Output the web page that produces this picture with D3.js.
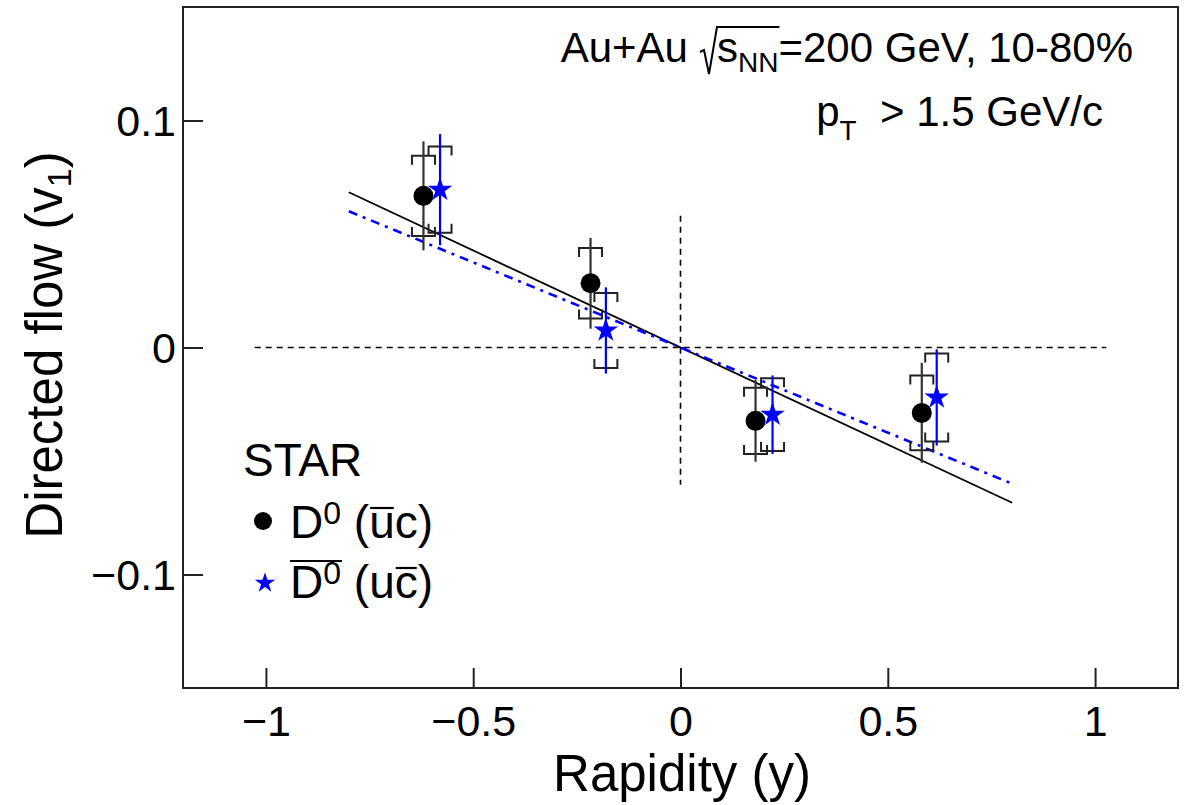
<!DOCTYPE html>
<html>
<head>
<meta charset="utf-8">
<script src="https://cdn.jsdelivr.net/npm/d3@7"></script>
<style>
  html, body { margin: 0; padding: 0; background: #fff; }
  svg { display: block; font-family: "Liberation Sans", Arial, Helvetica, sans-serif; }
  svg text { white-space: pre; }
</style>
</head>
<body>
<svg id="chart" width="1188" height="805"></svg>
<script>
// ---- data: D0 directed flow vs rapidity ----
const rapidityD0     = [-0.62, -0.217, 0.181, 0.582];
const v1D0           = [0.0668, 0.0283, -0.0323, -0.0288];
const statD0         = [0.024, 0.020, 0.018, 0.022];
const sysD0          = [0.0177, 0.0155, 0.0146, 0.0165];

const rapidityD0bar  = [-0.58, -0.18, 0.222, 0.618];
const v1D0bar        = [0.0695, 0.0075, -0.0296, -0.022];
const statD0bar      = [0.0245, 0.019, 0.0173, 0.0212];
const sysD0bar       = [0.019, 0.0165, 0.016, 0.0194];

// linear fits through the origin, drawn over this rapidity window
const fitRange       = [-0.8, 0.8];
const fitSlopeD0     = -0.0855;
const fitSlopeD0bar  = -0.075;

const xTicks      = [-1, -0.5, 0, 0.5, 1];
const xTickLabels = ["\u22121", "\u22120.5", "0", "0.5", "1"];
const yTicks      = [-0.1, 0, 0.1];
const yTickLabels = ["\u22120.1", "0", "0.1"];

// ---- layout ----
const frame = { left: 183, right: 1178, top: 7, bottom: 688 };
const svg = d3.select("#chart");

const x = d3.scaleLinear().domain([-1.2, 1.2]).range([frame.left, frame.right]);
const y = d3.scaleLinear().domain([-0.15, 0.15]).range([frame.bottom, frame.top]);

const BLUE = "#0000ff";

// reference lines at y = 0 and x = 0
svg.append("line")
  .attr("x1", x(-1.027)).attr("x2", x(1.027))
  .attr("y1", y(0)).attr("y2", y(0))
  .attr("stroke", "#000").attr("stroke-width", 1.6).attr("stroke-dasharray", "6 5");
svg.append("line")
  .attr("x1", x(0)).attr("x2", x(0))
  .attr("y1", y(0.058)).attr("y2", y(-0.0605))
  .attr("stroke", "#000").attr("stroke-width", 1.6).attr("stroke-dasharray", "6 5");

// fit lines
const fitLine = d3.line().x(d => x(d[0])).y(d => y(d[1]));
svg.append("path")
  .attr("d", fitLine(fitRange.map(v => [v, fitSlopeD0 * v])))
  .attr("stroke", "#000").attr("stroke-width", 1.8).attr("fill", "none");
svg.append("path")
  .attr("d", fitLine(fitRange.map(v => [v, fitSlopeD0bar * v])))
  .attr("stroke", BLUE).attr("stroke-width", 2.6).attr("fill", "none")
  .attr("stroke-dasharray", "9 6 3 6");

// error bars (statistical: vertical line; systematic: brackets)
function drawSeries(xs, vs, stat, sys, color, lineColor, marker) {
  const g = svg.append("g");
  const pts = xs.map((xv, i) => ({ xv, v: vs[i], st: stat[i], sy: sys[i] }));
  const bw = 11.5, tick = 9;
  pts.forEach(p => {
    const cx = x(p.xv);
    const top = y(p.v + p.sy), bot = y(p.v - p.sy);
    g.append("path")
      .attr("d", `M${cx - bw},${top + tick}V${top}H${cx + bw}V${top + tick}` +
                 `M${cx - bw},${bot - tick}V${bot}H${cx + bw}V${bot - tick}`)
      .attr("fill", "none").attr("stroke", "#222").attr("stroke-width", 2);
  });
  pts.forEach(p => {
    g.append("line")
      .attr("x1", x(p.xv)).attr("x2", x(p.xv))
      .attr("y1", y(p.v + p.st)).attr("y2", y(p.v - p.st))
      .attr("stroke", lineColor).attr("stroke-width", 2.2);
  });
  g.selectAll("path.mk").data(pts).join("path")
    .attr("class", "mk")
    .attr("transform", d => `translate(${x(d.xv)},${y(d.v)})`)
    .attr("d", marker)
    .attr("fill", color);
}
drawSeries(rapidityD0, v1D0, statD0, sysD0, "#000", "#333", d3.symbol(d3.symbolCircle, Math.PI * 10 * 10)());
drawSeries(rapidityD0bar, v1D0bar, statD0bar, sysD0bar, BLUE, BLUE, d3.symbol(d3.symbolStar, 185)());

// frame
svg.append("rect")
  .attr("x", frame.left).attr("y", frame.top)
  .attr("width", frame.right - frame.left).attr("height", frame.bottom - frame.top)
  .attr("fill", "none").attr("stroke", "#222").attr("stroke-width", 2);

// axes
const xAxis = d3.axisBottom(x).tickValues(xTicks)
  .tickFormat((d, i) => xTickLabels[i]).tickSizeInner(-20).tickSizeOuter(0).tickPadding(0);
const gx = svg.append("g").attr("transform", `translate(0,${frame.bottom})`).call(xAxis);
gx.select(".domain").remove();
gx.selectAll(".tick line").attr("stroke", "#222").attr("stroke-width", 2);
gx.selectAll(".tick text").attr("y", 48).attr("dy", 0)
  .attr("font-size", 43).attr("fill", "#000")
  .attr("font-family", "Liberation Sans, Arial, sans-serif");

const yAxis = d3.axisLeft(y).tickValues(yTicks)
  .tickFormat((d, i) => yTickLabels[i]).tickSizeInner(-20).tickSizeOuter(0).tickPadding(7);
const gy = svg.append("g").attr("transform", `translate(${frame.left},0)`).call(yAxis);
gy.select(".domain").remove();
gy.selectAll(".tick line").attr("stroke", "#222").attr("stroke-width", 2);
gy.selectAll(".tick text").attr("dy", "0.36em")
  .attr("font-size", 43).attr("fill", "#000")
  .attr("font-family", "Liberation Sans, Arial, sans-serif");

// rich text: pieces laid out left to right, each with its own size and baseline offset
function richText(parent, segs, anchor) {
  const g = parent.append("g");
  let cx = 0;
  const placed = [];
  segs.forEach(s => {
    if (s.gap !== undefined) { placed.push({ x0: cx, x1: cx + s.gap, seg: s }); cx += s.gap; return; }
    const t = g.append("text").attr("x", cx).attr("y", s.dy || 0)
      .attr("font-size", s.size).attr("fill", "#000").text(s.text);
    const w = t.node().getComputedTextLength();
    placed.push({ x0: cx, x1: cx + w, seg: s, node: t });
    cx += w;
  });
  const shift = anchor === "end" ? -cx : anchor === "middle" ? -cx / 2 : 0;
  g.selectAll("text").attr("x", function () { return +this.getAttribute("x") + shift; });
  placed.forEach(p => { p.x0 += shift; p.x1 += shift; });
  return { g, placed, width: cx };
}

// top-right annotation
const ann1 = richText(svg.append("g").attr("transform", "translate(1133,62)"), [
  { text: "Au+Au", size: 42 },
  { gap: 12 },
  { gap: 17 },                         // radical sign
  { text: "s", size: 42 },
  { text: "NN", size: 28, dy: 10 },
  { text: "=200 GeV, 10-80%", size: 42 }
], "end");
{
  const r = ann1.placed[2], nn = ann1.placed[4];
  ann1.g.append("path")
    .attr("d", `M${r.x0},${-10}L${r.x0 + 4},${-12}L${r.x0 + 9},${12}L${r.x1},${-35}H${nn.x1 + 1}`)
    .attr("fill", "none").attr("stroke", "#000").attr("stroke-width", 2);
}
richText(svg.append("g").attr("transform", "translate(1103,126)"), [
  { text: "p", size: 42 },
  { text: "T", size: 28, dy: 14 },
  { text: "  > 1.5 GeV/c", size: 42 }
], "end");

// axis titles
richText(svg.append("g").attr("transform", "translate(682,791)"), [
  { text: "Rapidity (y)", size: 51 }
], "middle");
richText(svg.append("g").attr("transform", "translate(62,345) rotate(-90)"), [
  { text: "Directed flow (v", size: 51 },
  { text: "1", size: 34, dy: 9 },
  { text: ")", size: 51 }
], "middle");

// legend
const leg = svg.append("g");
leg.append("text").attr("x", 243).attr("y", 476).attr("font-size", 46).attr("fill", "#000").text("STAR");
leg.append("path").attr("transform", "translate(263,521)")
  .attr("d", d3.symbol(d3.symbolCircle, Math.PI * 9 * 9)()).attr("fill", "#000");
leg.append("path").attr("transform", "translate(265,583)")
  .attr("d", d3.symbol(d3.symbolStar, 130)()).attr("fill", BLUE);

const row1 = richText(leg.append("g").attr("transform", "translate(290,538)"), [
  { text: "D", size: 46 },
  { text: "0", size: 32, dy: -14 },
  { text: " (", size: 46 },
  { text: "u", size: 46, over: true },
  { text: "c)", size: 46 }
], "start");
const row2 = richText(leg.append("g").attr("transform", "translate(290,598)"), [
  { text: "D", size: 46, overTall: true },
  { text: "0", size: 32, dy: -14, overTall: true },
  { text: " (u", size: 46 },
  { text: "c", size: 46, over: true },
  { text: ")", size: 46 }
], "start");
[row1, row2].forEach(row => {
  row.placed.filter(p => p.seg.over).forEach(p => {
    row.g.append("line").attr("x1", p.x0 + 1).attr("x2", p.x1 - 1)
      .attr("y1", -30).attr("y2", -30).attr("stroke", "#000").attr("stroke-width", 2.2);
  });
  const tall = row.placed.filter(p => p.seg.overTall);
  if (tall.length) {
    row.g.append("line").attr("x1", tall[0].x0).attr("x2", tall[tall.length - 1].x1 + 1)
      .attr("y1", -37).attr("y2", -37).attr("stroke", "#000").attr("stroke-width", 2.2);
  }
});
</script>
</body>
</html>
